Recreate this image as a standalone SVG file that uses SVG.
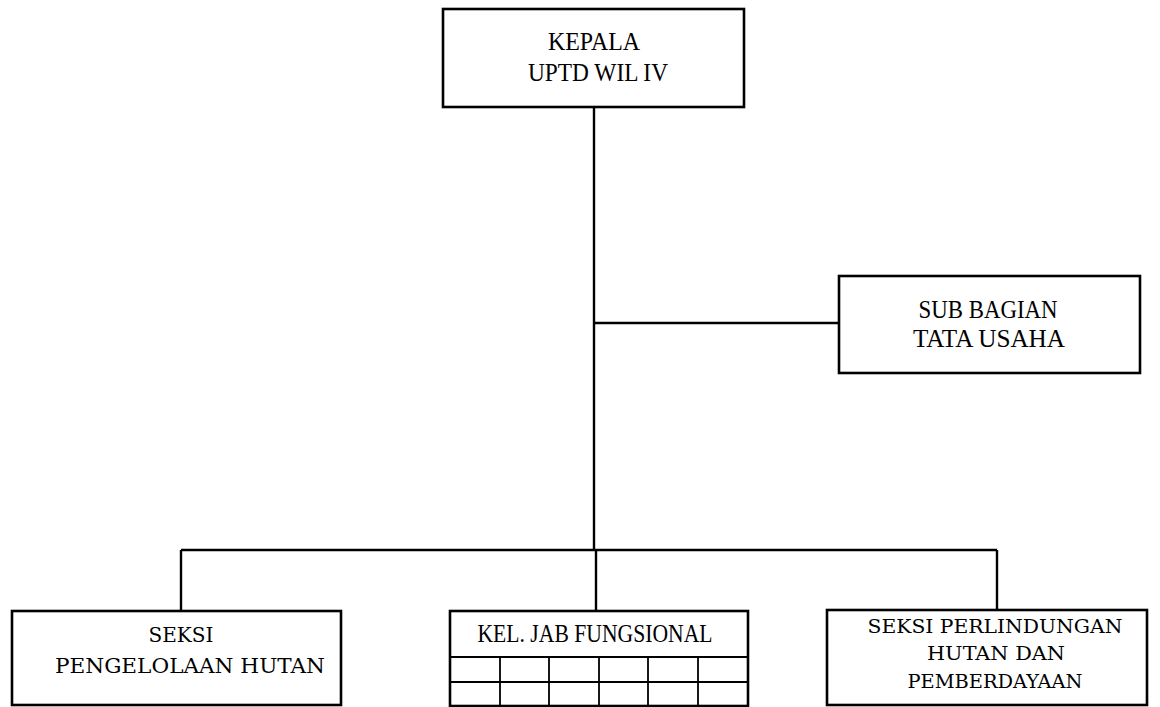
<svg xmlns="http://www.w3.org/2000/svg" width="1160" height="707" viewBox="0 0 1160 707">
<style>
.box{fill:#fff;stroke:#000;stroke-width:2.6}
.ln{fill:none;stroke:#000;stroke-width:2.4}
.grid{fill:none;stroke:#000;stroke-width:1.8}
.t{font-family:"Liberation Serif","Times New Roman",serif;font-size:25px;fill:#000;text-anchor:middle}
.s{font-family:"DejaVu Serif","Liberation Serif",serif;fill:#000;text-anchor:middle}
</style>
<rect width="1160" height="707" fill="#fff"/>
<g id="connectors">
<path class="ln" d="M594 107 V550"/>
<path class="ln" d="M594 323 H839"/>
<path class="ln" d="M181 550 H997"/>
<path class="ln" d="M181 550 V611"/>
<path class="ln" d="M596 550 V611"/>
<path class="ln" d="M997 550 V610"/>
</g>
<g id="kepala">
<rect class="box" x="443" y="9" width="301" height="98"/>
<text class="t" x="594" y="50" textLength="92" lengthAdjust="spacingAndGlyphs">KEPALA</text>
<text class="t" x="598" y="81" textLength="140" lengthAdjust="spacingAndGlyphs">UPTD WIL IV</text>
</g>
<g id="subbagian">
<rect class="box" x="839" y="276" width="301" height="97"/>
<text class="t" x="988" y="318" textLength="139" lengthAdjust="spacingAndGlyphs">SUB BAGIAN</text>
<text class="t" x="989" y="347" textLength="152" lengthAdjust="spacingAndGlyphs">TATA USAHA</text>
</g>
<g id="seksi-pengelolaan">
<rect class="box" x="12" y="611" width="329" height="94"/>
<text class="s" x="181" y="642" font-size="21" textLength="65" lengthAdjust="spacingAndGlyphs">SEKSI</text>
<text class="s" x="190" y="673" font-size="21" textLength="270" lengthAdjust="spacingAndGlyphs">PENGELOLAAN HUTAN</text>
</g>
<g id="kel-jab-fungsional">
<rect class="box" x="450" y="611" width="298" height="95"/>
<text class="t" x="595" y="642" font-size="24" textLength="235" lengthAdjust="spacingAndGlyphs">KEL. JAB FUNGSIONAL</text>
<path class="grid" d="M450 657 H748 M450 682 H748 M500 657 V706 M549 657 V706 M599 657 V706 M648 657 V706 M698 657 V706"/>
</g>
<g id="seksi-perlindungan">
<rect class="box" x="827" y="610" width="320" height="95"/>
<text class="s" x="995" y="633" font-size="18" textLength="255" lengthAdjust="spacingAndGlyphs">SEKSI PERLINDUNGAN</text>
<text class="s" x="996" y="660" font-size="18" textLength="138" lengthAdjust="spacingAndGlyphs">HUTAN DAN</text>
<text class="s" x="995" y="688" font-size="18" textLength="175" lengthAdjust="spacingAndGlyphs">PEMBERDAYAAN</text>
</g>
</svg>
